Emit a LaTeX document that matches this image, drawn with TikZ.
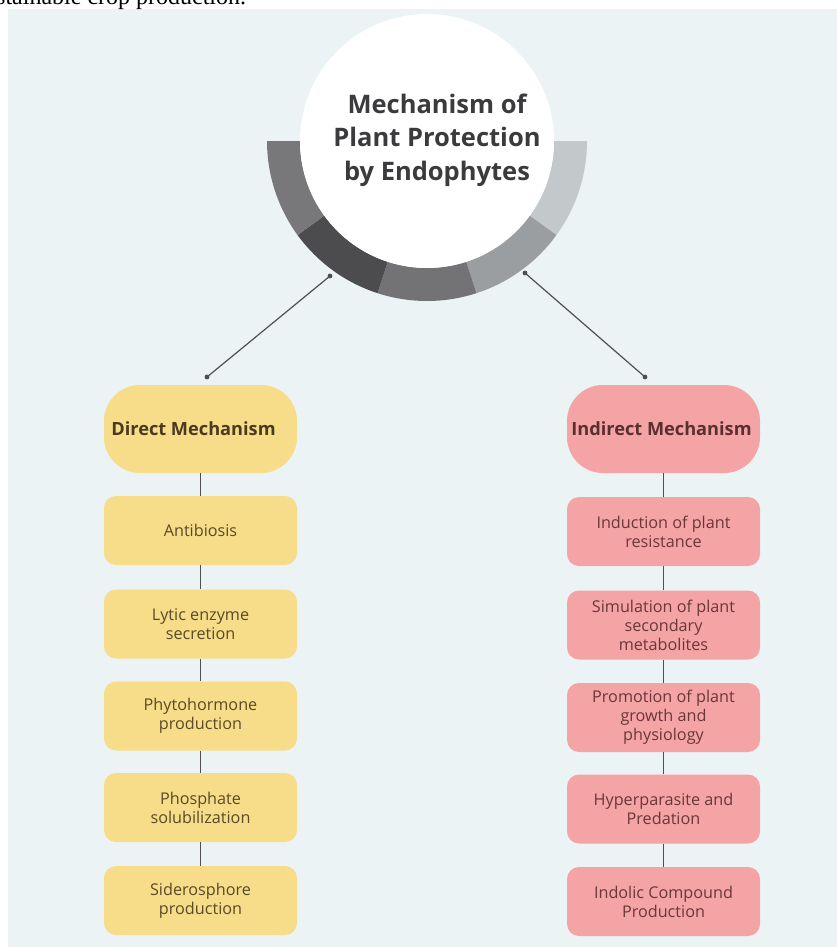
\documentclass[tikz,border=0pt]{standalone}
\usepackage{fontspec}
\setmainfont{Open Sans}
\newfontfamily\docserif{Liberation Serif}
\definecolor{bgc}{HTML}{EBF3F5}
\definecolor{yel}{HTML}{F7DC89}
\definecolor{pnk}{HTML}{F4A4A4}
\definecolor{ytext}{HTML}{5A4A26}
\definecolor{ptext}{HTML}{6A3739}
\definecolor{ttext}{HTML}{3B3B3D}
\definecolor{linec}{HTML}{4F4F52}
\definecolor{ringa}{HTML}{C3C8CA}
\definecolor{ringb}{HTML}{9B9EA0}
\definecolor{ringc}{HTML}{737376}
\definecolor{ringd}{HTML}{4C4C4F}
\definecolor{ringe}{HTML}{78787B}
\tikzset{
  headbox/.style={rounded corners=36pt, minimum width=193pt, minimum height=88pt, inner sep=0pt,
    font=\bfseries\fontsize{18.2}{22}\selectfont},
  subbox/.style={rounded corners=12pt, minimum width=193pt, minimum height=69pt, inner sep=0pt,
    align=center, font=\fontsize{16.2}{19}\selectfont},
  ybox/.style={subbox, fill=yel, text=ytext},
  pbox/.style={subbox, fill=pnk, text=ptext},
  conn/.style={draw=linec, line width=1.2pt},
  dotc/.style={fill=linec}
}
\begin{document}
\begin{tikzpicture}[x=1pt,y=-1pt]
\useasboundingbox (0,0) rectangle (837,947);
\clip (0,0) rectangle (837,947);
\fill[white] (0,0) rectangle (837,947);
\fill[bgc] (8,9) rectangle (837,947);
\node[anchor=base west, inner sep=0pt, font=\docserif\fontsize{24}{28}\selectfont] (cap) at (-4,5) {stainable crop production.};

% ring
\begin{scope}[shift={(427,141)}]
\foreach \a/\c in {0/ringa,36/ringb,72/ringc,108/ringd,144/ringe}{
  \pgfmathsetmacro{\e}{\a+36}
  \fill[\c] (\a:160) arc[start angle=\a, end angle=\e, radius=160] -- (\e:127) arc[start angle=\e, end angle=\a, radius=127] -- cycle;
}
\end{scope}
\node[circle, fill=white, minimum size=254pt, inner sep=0pt] (hub) at (427,141) {};
\node[align=center, text=ttext, font=\bfseries\fontsize{25.5}{33.5}\selectfont] (title) at (437,140) {Mechanism of\\Plant Protection\\by Endophytes};

% heads
\node[headbox, fill=yel, text=ytext!80!black] (dir) at (200.5,429) {Direct Mechanism\hspace*{14pt}};
\node[headbox, fill=pnk, text=ptext!85!black] (ind) at (663.5,429) {Indirect Mechanism\hspace*{4pt}};

% diagonal connectors
\coordinate (la) at (330,276);
\coordinate (lb) at (207,377);
\coordinate (ra) at (525,273);
\coordinate (rb) at (645,377);
\draw[conn] (la) -- (lb);
\draw[conn] (ra) -- (rb);
\foreach \p in {la,lb,ra,rb} \fill[dotc] (\p) circle[radius=2.4];

% left column
\node[ybox] (l1) at (200.5,530.5) {Antibiosis};
\node[ybox] (l2) at (200.5,624) {Lytic enzyme\\secretion};
\node[ybox] (l3) at (200.5,716) {Phytohormone\\production};
\node[ybox] (l4) at (200.5,807.5) {Phosphate\\solubilization};
\node[ybox] (l5) at (200.5,900.5) {Siderosphore\\production};

% right column
\node[pbox] (r1) at (663.5,531.5) {Induction of plant\\resistance};
\node[pbox] (r2) at (663.5,625) {Simulation of plant\\secondary\\metabolites};
\node[pbox] (r3) at (663.5,717.5) {Promotion of plant\\growth and\\physiology};
\node[pbox] (r4) at (663.5,809) {Hyperparasite and\\Predation};
\node[pbox] (r5) at (663.5,901.5) {Indolic Compound\\Production};

\draw[conn] (dir) -- (l1);
\draw[conn] (l1) -- (l2);
\draw[conn] (l2) -- (l3);
\draw[conn] (l3) -- (l4);
\draw[conn] (l4) -- (l5);
\draw[conn] (ind) -- (r1);
\draw[conn] (r1) -- (r2);
\draw[conn] (r2) -- (r3);
\draw[conn] (r3) -- (r4);
\draw[conn] (r4) -- (r5);
\end{tikzpicture}
\end{document}
